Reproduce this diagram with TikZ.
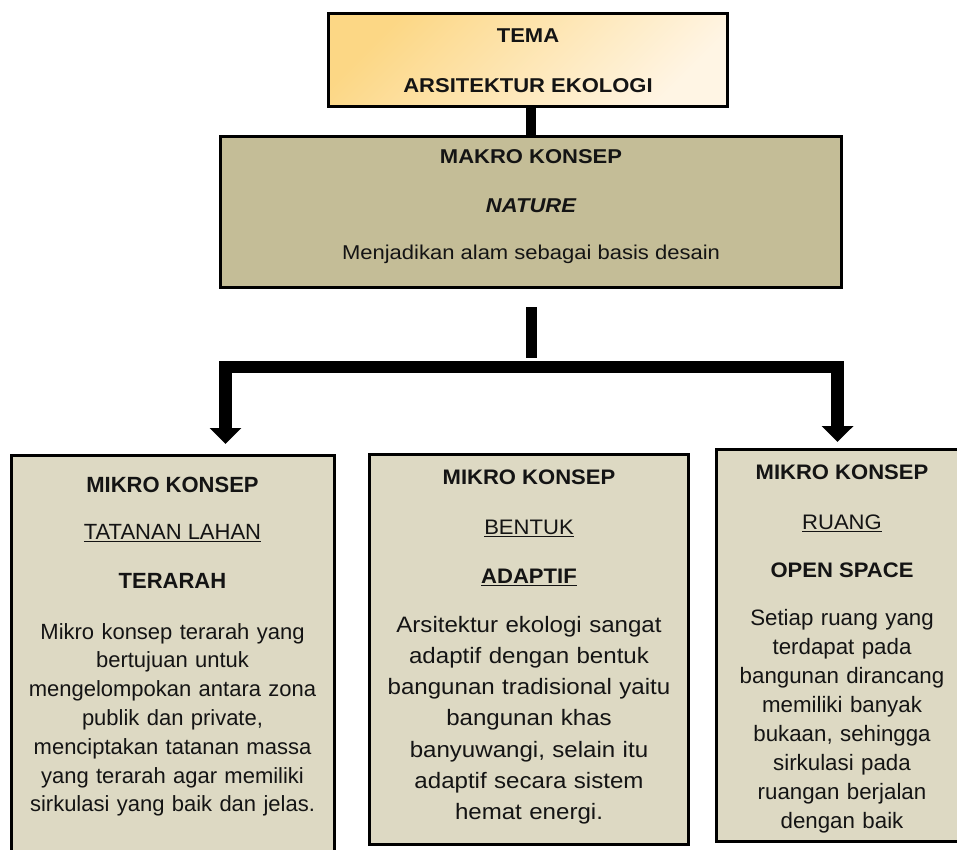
\documentclass[tikz,border=0pt]{standalone}
\usepackage{fontspec}
\setmainfont{Liberation Sans}
\newfontfamily\widefont{Liberation Sans}[FakeStretch=1.1]
\newfontfamily\slightfont{Liberation Sans}[FakeStretch=1.05]
\newfontfamily\midfont{Liberation Sans}[FakeStretch=1.08]
\usetikzlibrary{arrows.meta}
\definecolor{temadark}{HTML}{FCD785}
\definecolor{temalight}{HTML}{FFF5E4}
\definecolor{makrofill}{HTML}{C4BD97}
\definecolor{mikrofill}{HTML}{DDD9C3}
\definecolor{ink}{HTML}{141414}
\newcommand\ulx[1]{\leavevmode\setbox0\hbox{#1}\rlap{\rule[-3pt]{\wd0}{1.5pt}}\box0}
\begin{document}
\begin{tikzpicture}[x=1pt,y=-1pt,
  frame/.style={draw=black, line width=3pt, rectangle, inner sep=0pt, anchor=north west},
  txt/.style={inner sep=0pt, anchor=base, text=ink},
  para/.style={txt, text width=320pt, align=center},
  conn/.style={line width=10pt, black},
  stubline/.style={line width=11pt, black},
  bar/.style={line width=12.5pt, black, line join=miter,
    arrows={Triangle[width=31pt,length=16pt]-Triangle[width=31pt,length=16pt]}},
  hfontA/.style={font=\widefont\fontsize{20}{24}\selectfont},
  hfontB/.style={font=\fontsize{22}{26}\selectfont},
  hfontC/.style={font=\slightfont\fontsize{21}{25}\selectfont}]
\useasboundingbox (0,0) rectangle (957,850);
\clip (0,0) rectangle (957,850);

% boxes
\node[frame, top color=temadark, bottom color=temalight, shading angle=45,
      minimum width=399pt, minimum height=93pt] (tema) at (327,12) {};
\node[frame, fill=makrofill, minimum width=621pt, minimum height=151pt] (makro) at (219,135) {};
\node[frame, fill=mikrofill, minimum width=323pt, minimum height=443pt] (m1) at (10,454) {};
\node[frame, fill=mikrofill, minimum width=319pt, minimum height=390pt] (m2) at (368,453) {};
\node[frame, fill=mikrofill, minimum width=262pt, minimum height=392pt] (m3) at (715,448) {};

% connectors
\draw[conn] (makro.north |- tema.south) -- (makro.north);
\coordinate (stubtop) at ([yshift=-18pt]makro.south);
\coordinate (stubbot) at ([yshift=-69pt]makro.south);
\draw[stubline] (stubtop) -- (stubbot);
\coordinate (cL) at (225.5,367);
\coordinate (cR) at (837.5,367);
\coordinate (tL) at ([yshift=10pt]m1.north -| cL);
\coordinate (tR) at ([yshift=6pt]m3.north -| cR);
\draw[bar] (tL) -- (cL) -- (cR) -- (tR);

% tema text
\node[txt, hfontA] (temaA) at (528,43) {\bfseries TEMA};
\node[txt, hfontA] (temaB) at (528,93) {\bfseries ARSITEKTUR EKOLOGI};

% makro text
\node[txt, hfontA] (makA) at (531,164) {\bfseries MAKRO KONSEP};
\node[txt, hfontA] (makB) at (531,213) {\bfseries\itshape NATURE};
\node[txt, hfontA] (makC) at (531,259) {Menjadikan alam sebagai basis desain};

% mikro 1
\node[txt, hfontB] (m1a) at (172.5,492) {\bfseries MIKRO KONSEP};
\node[txt, hfontB] (m1b) at (172.5,539) {\ulx{TATANAN LAHAN}};
\node[txt, hfontB] (m1c) at (172.5,588) {\bfseries TERARAH};
\node[para, font=\fontsize{22}{28.8}\selectfont] (m1d) at (172.5,639)
  {Mikro konsep terarah yang\\ bertujuan untuk\\ mengelompokan antara zona\\ publik dan private,\\ menciptakan tatanan massa\\ yang terarah agar memiliki\\ sirkulasi yang baik dan jelas.};

% mikro 2
\node[txt, hfontC] (m2a) at (529,484) {\bfseries MIKRO KONSEP};
\node[txt, hfontC] (m2b) at (529,534) {\ulx{BENTUK}};
\node[txt, hfontC] (m2c) at (529,583) {\bfseries\ulx{ADAPTIF}};
\node[para, font=\midfont\fontsize{22.3}{31.3}\selectfont] (m2d) at (529,632)
  {Arsitektur ekologi sangat\\ adaptif dengan bentuk\\ bangunan tradisional yaitu\\ bangunan khas\\ banyuwangi, selain itu\\ adaptif secara sistem\\ hemat energi.};

% mikro 3
\node[txt, hfontC] (m3a) at (842,479) {\bfseries MIKRO KONSEP};
\node[txt, hfontC] (m3b) at (842,529) {\ulx{RUANG}};
\node[txt, hfontC] (m3c) at (842,577) {\bfseries OPEN SPACE};
\node[para, font=\fontsize{22.3}{29.1}\selectfont] (m3d) at (842,625)
  {Setiap ruang yang\\ terdapat pada\\ bangunan dirancang\\ memiliki banyak\\ bukaan, sehingga\\ sirkulasi pada\\ ruangan berjalan\\ dengan baik};
\end{tikzpicture}
\end{document}
